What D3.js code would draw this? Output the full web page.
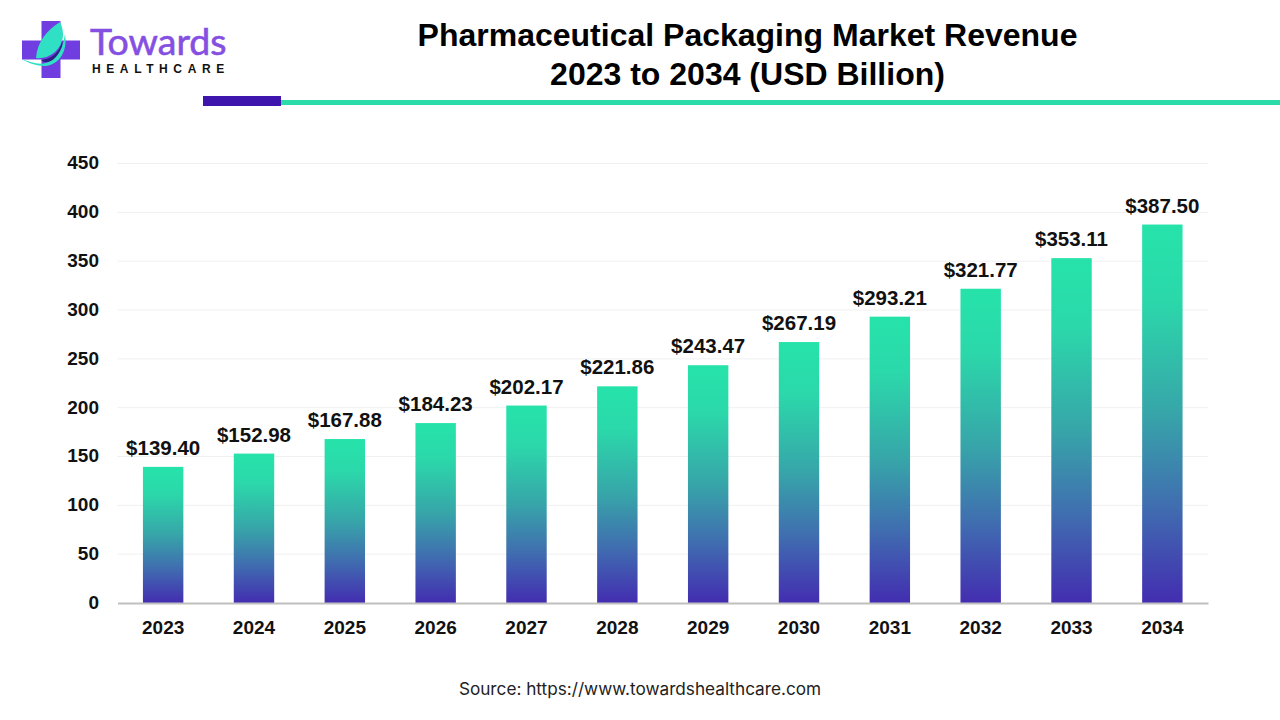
<!DOCTYPE html>
<html>
<head>
<meta charset="utf-8">
<style>
  body { margin: 0; background: #fff; }
  text { font-family: "Liberation Sans", Arial, sans-serif; }
</style>
<script src="https://cdn.jsdelivr.net/npm/d3@7"></script>
</head>
<body>
<div id="container"></div>
<script>
const years = ['2023','2024','2025','2026','2027','2028','2029','2030','2031','2032','2033','2034'];
const revenue = [139.40,152.98,167.88,184.23,202.17,221.86,243.47,267.19,293.21,321.77,353.11,387.50];
const yTicks = [0,50,100,150,200,250,300,350,400,450];

const svg = d3.select('#container').append('svg')
  .attr('width', 1280).attr('height', 720).style('display','block');

const x = d3.scaleBand().domain(years).range([117.5, 1208]).paddingInner(0.555).paddingOuter(0.28);
const y = d3.scaleLinear().domain([0,450]).range([603, 163.5]);

const defs = svg.append('defs');
const grad = defs.append('linearGradient').attr('id','barGrad')
  .attr('x1',0).attr('y1',0).attr('x2',0).attr('y2',1);
grad.append('stop').attr('offset','0%').attr('stop-color','#26e3aa');
grad.append('stop').attr('offset','20%').attr('stop-color','#2bd8aa');
grad.append('stop').attr('offset','50%').attr('stop-color','#37a5a9');
grad.append('stop').attr('offset','75%').attr('stop-color','#406cb0');
grad.append('stop').attr('offset','100%').attr('stop-color','#432db0');

// gridlines
svg.append('g').selectAll('line').data(yTicks.filter(d => d > 0)).join('line')
  .attr('x1',117.5).attr('x2',1208)
  .attr('y1',d => y(d)).attr('y2',d => y(d))
  .attr('stroke','#f0f0f0').attr('stroke-width',1);

// bars
svg.append('g').selectAll('rect').data(revenue).join('rect')
  .attr('x',(d,i) => x(years[i]))
  .attr('y',d => y(d))
  .attr('width',x.bandwidth())
  .attr('height',d => y(0) - y(d))
  .attr('fill','url(#barGrad)');

// value labels
svg.append('g').selectAll('text').data(revenue).join('text')
  .attr('x',(d,i) => x(years[i]) + x.bandwidth()/2)
  .attr('y',d => y(d) - 12)
  .attr('text-anchor','middle')
  .attr('font-size',20.5).attr('font-weight','bold').attr('fill','#111')
  .text(d => '$' + d.toFixed(2));

// axes
const xAxis = svg.append('g').attr('transform','translate(0,603)')
  .call(d3.axisBottom(x).tickSize(0).tickPadding(18));
xAxis.select('.domain').attr('stroke','#bfbfbf').attr('stroke-width',2);
xAxis.selectAll('text').attr('font-size',19).attr('font-weight','bold').attr('fill','#111')
  .style('font-family','"Liberation Sans", Arial, sans-serif');

const yAxis = svg.append('g').attr('transform','translate(99,-0.7)')
  .call(d3.axisLeft(y).tickValues(yTicks).tickSize(0).tickPadding(0));
yAxis.select('.domain').remove();
yAxis.selectAll('text').attr('font-size',19).attr('font-weight','bold').attr('fill','#111')
  .style('font-family','"Liberation Sans", Arial, sans-serif');

// title
svg.append('text').attr('x',747.5).attr('y',46).attr('text-anchor','middle')
  .attr('font-size',32).attr('font-weight','bold').attr('fill','#000')
  .text('Pharmaceutical Packaging Market Revenue');
svg.append('text').attr('x',747.5).attr('y',85).attr('text-anchor','middle')
  .attr('font-size',32).attr('font-weight','bold').attr('fill','#000')
  .text('2023 to 2034 (USD Billion)');

// header rule
svg.append('rect').attr('x',203).attr('y',96).attr('width',78).attr('height',10).attr('fill','#3f16ad');
svg.append('rect').attr('x',281).attr('y',100).attr('width',999).attr('height',5).attr('fill','#2bdcaa');

// source
svg.append('text').attr('x',640).attr('y',694.5).attr('text-anchor','middle')
  .attr('font-size',17.2).attr('fill','#222')
  .style('font-family','Inter, sans-serif')
  .text('Source: https://www.towardshealthcare.com');

// logo
const logo = svg.append('g');
logo.append('path').attr('fill','#6f3de0')
  .attr('d','M41.5 21 H60.5 V40.5 H80 V59.5 H60.5 V78 H41.5 V59.5 H22 V40.5 H41.5 Z');
logo.append('path').attr('fill','#2fe0c4')
  .attr('d','M36 58 C37 42 47 30 60 22 C65 32 64 44 55 52 C49 57 42 59 36 58 Z');
logo.append('path').attr('fill','#2a1f80')
  .attr('d','M41 60 C52 59 60 52 62 41 C65 52 56 63 44 62 Z');
logo.append('path').attr('fill','#2fe0c4')
  .attr('d','M22 59 C30 62 38 65 46 63 C54 61 62 54 65 34 C68 50 60 65 45 66 C36 66 28 63 22 59 Z');
logo.append('text').attr('x',90).attr('y',55)
  .attr('font-size',37.5).attr('fill','#8550e2').attr('stroke','#8550e2').attr('stroke-width',0.6)
  .style('font-family','Lato, sans-serif')
  .text('Towards');
logo.append('text').attr('x',92).attr('y',73)
  .attr('font-size',12).attr('font-weight','bold').attr('fill','#111')
  .attr('letter-spacing',5.6)
  .text('HEALTHCARE');
</script>
</body>
</html>
